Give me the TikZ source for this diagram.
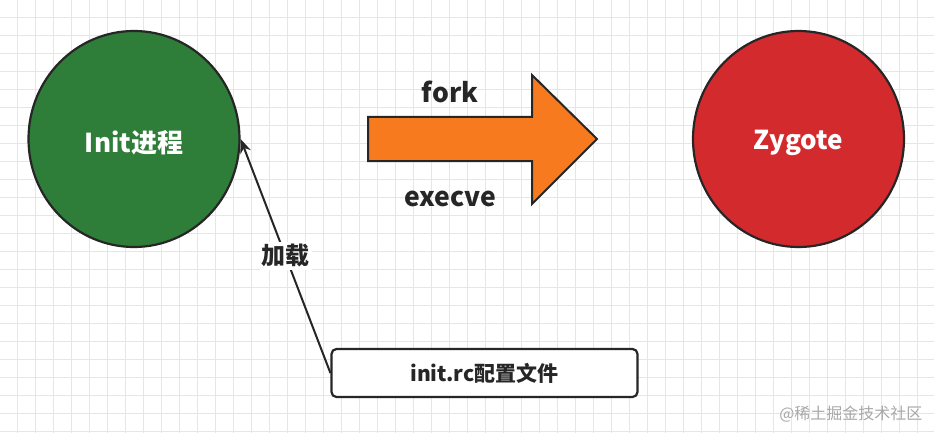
\documentclass[tikz,border=0pt]{standalone}
\usepackage{fontspec}
\setmainfont{Noto Sans CJK SC}
\usetikzlibrary{shapes.geometric,arrows.meta}
\definecolor{gridc}{HTML}{E6E6E6}
\definecolor{initgreen}{HTML}{2E7D38}
\definecolor{zred}{HTML}{D32A2E}
\definecolor{forange}{HTML}{F87A1E}
\definecolor{ink}{HTML}{262626}
\definecolor{wm}{HTML}{A8A8A8}
\tikzset{
  proc/.style={ellipse, draw=ink, line width=2.2pt, inner sep=0pt,
    minimum width=211pt, minimum height=216pt,
    font=\bfseries\fontsize{26}{30}\selectfont, text=white},
  filebox/.style={draw=ink, line width=2.2pt, rounded corners=5pt, fill=white,
    minimum width=306pt, minimum height=48pt, inner sep=0pt,
    font=\bfseries\fontsize{21}{25}\selectfont, text=ink},
  lbl/.style={font=\bfseries\fontsize{26.5}{30}\selectfont, text=ink, inner sep=1pt},
  loadlbl/.style={font=\bfseries\fontsize{24}{28}\selectfont, text=ink, inner sep=2pt, fill=white},
  conn/.style={draw=ink, line width=2pt, -{Stealth[length=14pt,width=11pt]}},
}
\begin{document}
\begin{tikzpicture}[x=1pt,y=-1pt]
\useasboundingbox (0,0) rectangle (934,433);
\fill[white] (0,0) rectangle (934,433);
% grid
\foreach \i in {0,...,51} \draw[gridc, line width=0.8pt] ({17+18*\i},0) -- ({17+18*\i},433);
\foreach \j in {0,...,23} \draw[gridc, line width=0.8pt] (0,{17+18*\j}) -- (934,{17+18*\j});

\node[proc, fill=initgreen] (init) at (134,139) {\raisebox{-4pt}[\height][\depth]{Init进程}};
\node[proc, fill=zred] (zygote) at (798.5,139) {\raisebox{-4pt}[\height][\depth]{Zygote}};

% big orange arrow
\filldraw[fill=forange, draw=ink, line width=2pt, line join=miter]
  (368,117) -- (532,117) -- (532,75) -- (597,139) -- (532,204) -- (532,161) -- (368,161) -- cycle;
\node[lbl] (fork) at (450,92) {fork};
\node[lbl] (execve) at (450,199) {execve};

\node[filebox] (rc) at (484.5,373) {init.rc配置文件};

\draw[conn] (rc.west) -- node[loadlbl, pos=0.5] (load) {加载} (init.east);

\node[font=\fontsize{16}{18}\selectfont, text=wm, anchor=east] (mark) at (926,414) {@稀土掘金技术社区};
\end{tikzpicture}
\end{document}
